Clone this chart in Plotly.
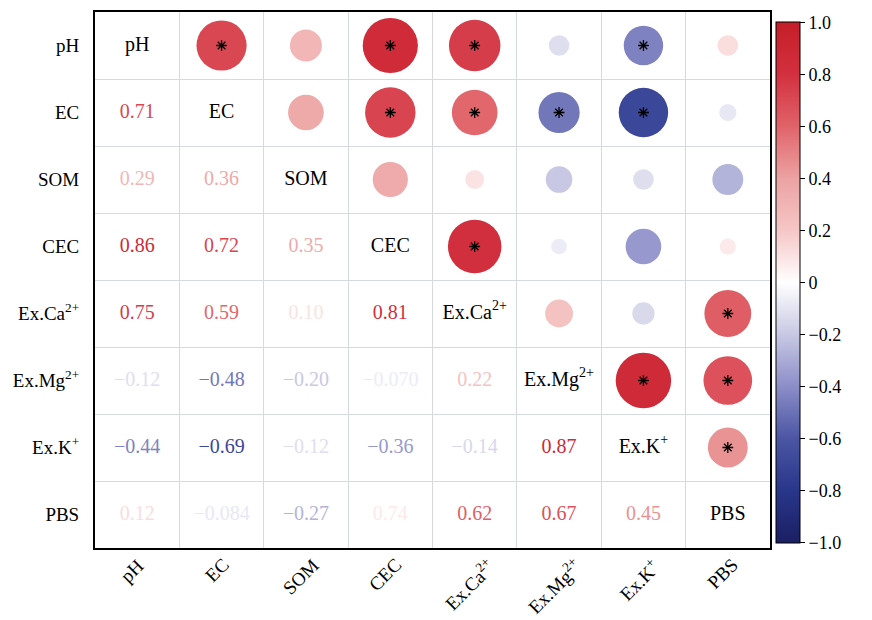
import plotly.graph_objects as go
import numpy as np

variables = ["pH", "EC", "SOM", "CEC", "Ex.Ca<sup>2+</sup>", "Ex.Mg<sup>2+</sup>", "Ex.K<sup>+</sup>", "PBS"]

# lower-triangle correlation values (row i > col j)
corr_lower = [
    [],
    [0.71],
    [0.29, 0.36],
    [0.86, 0.72, 0.35],
    [0.75, 0.59, 0.10, 0.81],
    [-0.12, -0.48, -0.20, -0.070, 0.22],
    [-0.44, -0.69, -0.12, -0.36, -0.14, 0.87],
    [0.12, -0.084, -0.27, 0.074, 0.62, 0.67, 0.45],
]
# printed labels in the lower triangle (as shown in the original)
label_lower = [
    [],
    ["0.71"],
    ["0.29", "0.36"],
    ["0.86", "0.72", "0.35"],
    ["0.75", "0.59", "0.10", "0.81"],
    ["−0.12", "−0.48", "−0.20", "−0.070", "0.22"],
    ["−0.44", "−0.69", "−0.12", "−0.36", "−0.14", "0.87"],
    ["0.12", "−0.084", "−0.27", "0.74", "0.62", "0.67", "0.45"],
]
# significant pairs (row, col) in upper triangle
significant = [(0, 1), (0, 3), (0, 4), (0, 6), (1, 3), (1, 4), (1, 5), (1, 6),
               (3, 4), (4, 7), (5, 6), (5, 7), (6, 7)]

cbar_vals = [1, 0.8, 0.6, 0.4, 0.2, 0, -0.2, -0.4, -0.6, -0.8, -1]
cbar_text = ["1.0", "0.8", "0.6", "0.4", "0.2", "0", "−0.2", "−0.4", "−0.6", "−0.8", "−1.0"]

colorscale = [
    [0.0, "#1b1f63"], [0.1, "#28368a"], [0.2, "#4b55a3"], [0.3, "#8b8dc8"],
    [0.4, "#c8c8e4"], [0.5, "#ffffff"], [0.6, "#f6c6c6"], [0.7, "#eca2a2"],
    [0.8, "#e0636a"], [0.9, "#d3303f"], [1.0, "#c41e28"],
]

def hex2rgb(h):
    h = h.lstrip("#")
    return [int(h[i:i + 2], 16) for i in (0, 2, 4)]

def value_color(v):
    t = (v + 1) / 2
    for k in range(len(colorscale) - 1):
        t0, c0 = colorscale[k]
        t1, c1 = colorscale[k + 1]
        if t0 <= t <= t1:
            f = (t - t0) / (t1 - t0)
            a, b = hex2rgb(c0), hex2rgb(c1)
            c = [round(a[i] + f * (b[i] - a[i])) for i in range(3)]
            return "rgb(%d,%d,%d)" % tuple(c)
    return colorscale[-1][1]

n = len(variables)
cx, cy, cv = [], [], []
tx, ty, tt, tc = [], [], [], []
sx, sy = [], []
for i in range(n):
    for j in range(i):
        v = corr_lower[i][j]
        cx.append(i); cy.append(j); cv.append(v)
        tx.append(j); ty.append(i); tt.append(label_lower[i][j]); tc.append(value_color(v))
for (r, c) in significant:
    sx.append(c); sy.append(r)

FONT = "Liberation Serif, Times New Roman, serif"
size_scale = 59.5

fig = go.Figure()
fig.add_trace(go.Scatter(
    x=cx, y=cy, mode="markers",
    marker=dict(size=[size_scale * np.sqrt(abs(v)) for v in cv], sizemode="diameter",
                color=cv, colorscale=colorscale, cmin=-1.002, cmax=1.002, line=dict(width=0),
                opacity=1,
                colorbar=dict(
                    x=1.0, xanchor="left", xpad=6, y=0.495, yanchor="middle",
                    len=0.972, ypad=0, thickness=24, outlinecolor="black", outlinewidth=1,
                    ticks="outside", ticklen=5, tickcolor="black",
                    tickmode="array", tickvals=cbar_vals, ticktext=cbar_text,
                    ticklabeloverflow="allow",
                    tickfont=dict(family=FONT, size=18, color="black"),
                )),
    showlegend=False, hoverinfo="skip"))
fig.add_trace(go.Scatter(
    x=tx, y=ty, mode="text", text=tt,
    textfont=dict(family=FONT, size=20, color=tc),
    showlegend=False, hoverinfo="skip"))
fig.add_trace(go.Scatter(
    x=list(range(n)), y=list(range(n)), mode="text", text=variables,
    textfont=dict(family=FONT, size=20, color="black"),
    showlegend=False, hoverinfo="skip"))
fig.add_trace(go.Scatter(
    x=sx, y=sy, mode="markers",
    marker=dict(symbol="asterisk-open", size=9, color="black", line=dict(width=1.3, color="black")),
    showlegend=False, hoverinfo="skip"))

axis_common = dict(
    tickvals=list(range(n)), ticktext=variables, showgrid=False, zeroline=False,
    showline=True, mirror=True, linecolor="black", linewidth=2,
    ticks="", color="black",
    minor=dict(tick0=0.5, dtick=1, showgrid=True, gridcolor="#d5dade", gridwidth=1, ticks=""),
)
fig.update_xaxes(range=[-0.5, n - 0.5], showticklabels=False, **axis_common)
fig.update_yaxes(range=[n - 0.5, -0.5], ticklabelstandoff=10,
                 tickfont=dict(family=FONT, size=19, color="black"), **axis_common)

# rotated x-axis category labels, centred under each column
for k, name in enumerate(variables):
    fig.add_annotation(x=k, xref="x", y=0, yref="paper", text=name, textangle=-45,
                       xanchor="center", yanchor="top", yshift=-5, xshift=-5, showarrow=False,
                       borderpad=0, font=dict(family=FONT, size=19, color="black"))

# page body has an 8px margin, so the figure is drawn 8px smaller and offset
fig.update_layout(
    width=864, height=612,
    margin=dict(l=87, r=102, t=4, b=72, autoexpand=False),
    paper_bgcolor="white", plot_bgcolor="white",
    font=dict(family=FONT, color="black"),
)
fig.write_html("out.html")
